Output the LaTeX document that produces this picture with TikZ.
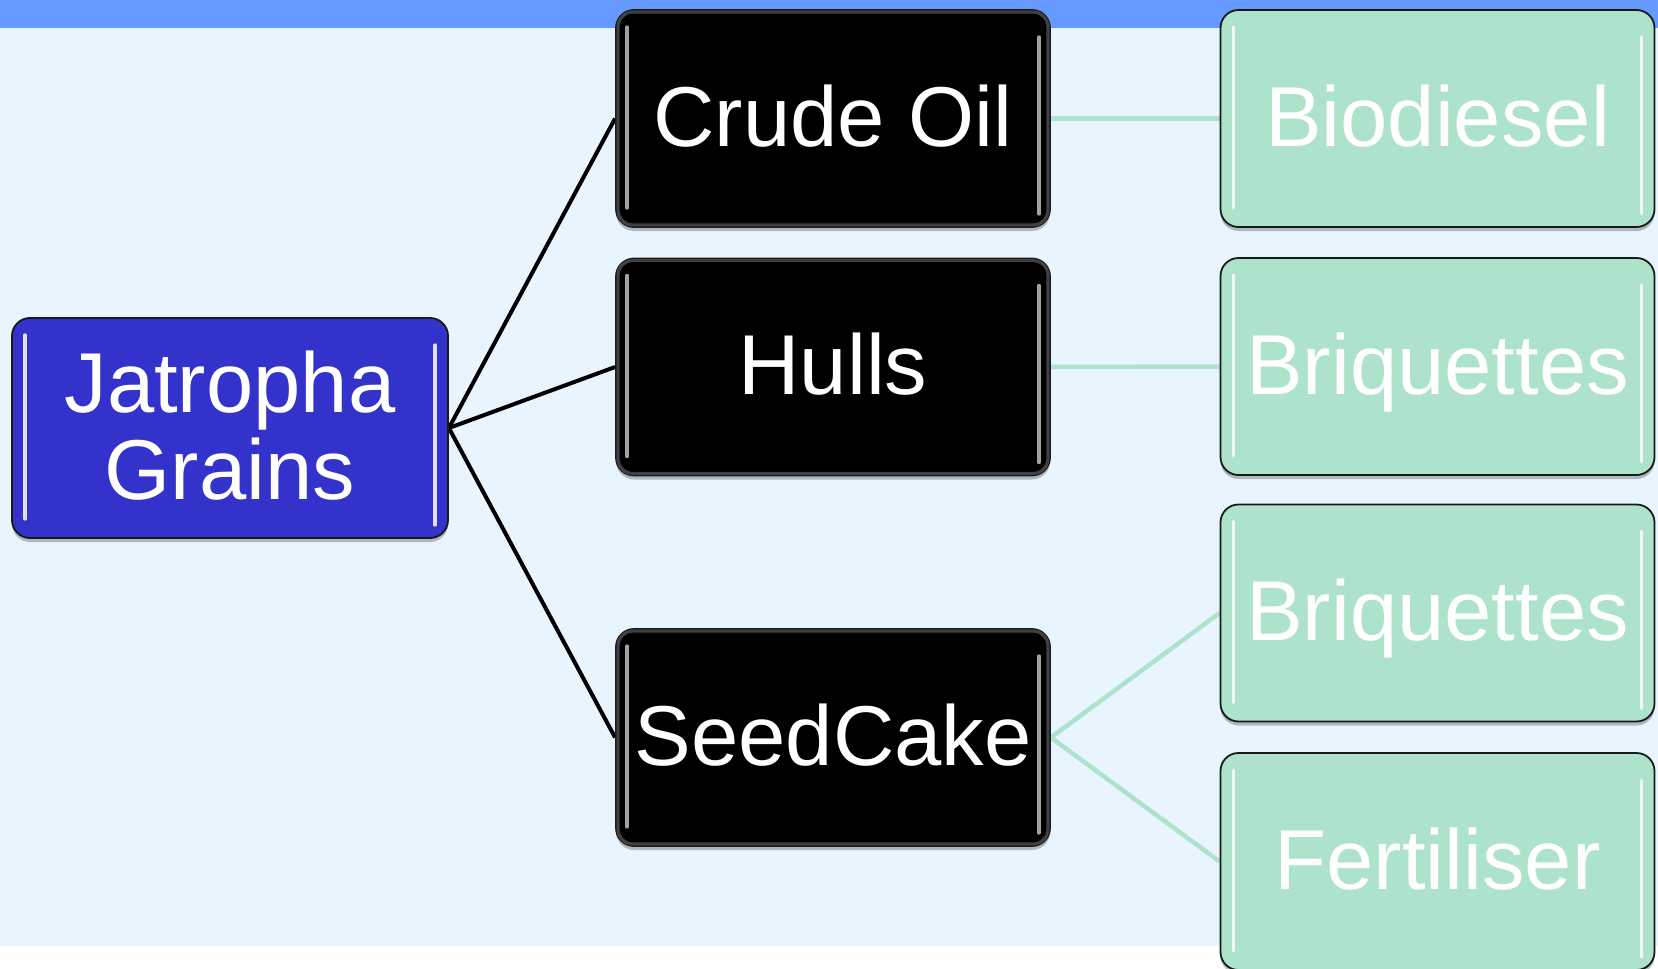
\documentclass[tikz,border=0pt]{standalone}
\usepackage{fontspec}
\setmainfont{Liberation Sans}
\usetikzlibrary{shadows}
\pgfdeclarelayer{bgzero}
\pgfdeclarelayer{background}
\pgfsetlayers{bgzero,background,main}
\definecolor{topbar}{RGB}{102,153,255}
\definecolor{pagebg}{RGB}{232,245,255}
\definecolor{jatblue}{RGB}{51,51,204}
\definecolor{mint}{RGB}{173,227,203}
\tikzset{
  box/.style={rounded corners=18pt, draw=black!90, line width=1.8pt,
    minimum width=434pt, minimum height=217pt, inner sep=0pt,
    text=white, font=\fontsize{85}{87}\selectfont, align=center,
    text height=55pt, text depth=0pt,
    drop shadow={shadow xshift=0pt, shadow yshift=-4pt, opacity=0.25, fill=black}},
  blackbox/.style={box, fill=black},
  bluebox/.style={box, fill=jatblue, minimum width=436pt, minimum height=220pt,
    text height=142pt, text depth=0pt},
  greenbox/.style={box, fill=mint},
  blackline/.style={line width=4pt, draw=black},
  greenline/.style={line width=4.5pt, draw=mint},
  gloss/.style={line width=3.5pt, draw=white, opacity=0.85, line cap=round},
  rim/.style={rounded corners=15pt, draw=white!55!black, line width=3pt, opacity=0.45}
}
\begin{document}
\begin{tikzpicture}[x=1pt,y=-1pt]
\useasboundingbox (0,0) rectangle (1658,969);
\begin{pgfonlayer}{bgzero}
  \fill[white] (0,0) rectangle (1658,969);
  \fill[pagebg] (0,28) rectangle (1658,946);
  \fill[topbar] (0,0) rectangle (1658,28);
\end{pgfonlayer}

\node[bluebox] (jat) at (230,428) {Jatropha\\Grains};
\node[blackbox] (crude) at (833,118.5) {Crude Oil};
\node[blackbox] (hulls) at (833,367) {Hulls};
\node[blackbox] (seed) at (833,737.5) {SeedCake};
\node[greenbox] (bio) at (1437.5,118.5) {Biodiesel};
\node[greenbox] (briq) at (1437.5,366.5) {Briquettes};
\node[greenbox] (briqb) at (1437.5,613) {Briquettes};
\node[greenbox] (fert) at (1437.5,861.5) {Fertiliser};

\foreach \n in {jat,bio,briq,briqb,fert}{
  \draw[gloss] ([xshift=14pt,yshift=-18pt]\n.north west) -- ([xshift=14pt,yshift=20pt]\n.south west);
  \draw[gloss] ([xshift=-14pt,yshift=-28pt]\n.north east) -- ([xshift=-14pt,yshift=14pt]\n.south east);
}
\foreach \n in {crude,hulls,seed}{
  \draw[rim] ([xshift=3pt,yshift=-3pt]\n.north west) rectangle ([xshift=-3pt,yshift=3pt]\n.south east);
  \draw[gloss, draw=white!75!black] ([xshift=12pt,yshift=-18pt]\n.north west) -- ([xshift=12pt,yshift=20pt]\n.south west);
  \draw[gloss, draw=white!75!black] ([xshift=-12pt,yshift=-28pt]\n.north east) -- ([xshift=-12pt,yshift=14pt]\n.south east);
}

\begin{pgfonlayer}{background}
  \draw[blackline] (jat.east) -- (crude.west);
  \draw[blackline] (jat.east) -- (hulls.west);
  \draw[blackline] (jat.east) -- (seed.west);
  \draw[greenline] (crude.east) -- (bio.west);
  \draw[greenline] (hulls.east) -- (briq.west);
  \draw[greenline] (seed.east) -- (briqb.west);
  \draw[greenline] (seed.east) -- (fert.west);
\end{pgfonlayer}
\end{tikzpicture}
\end{document}
